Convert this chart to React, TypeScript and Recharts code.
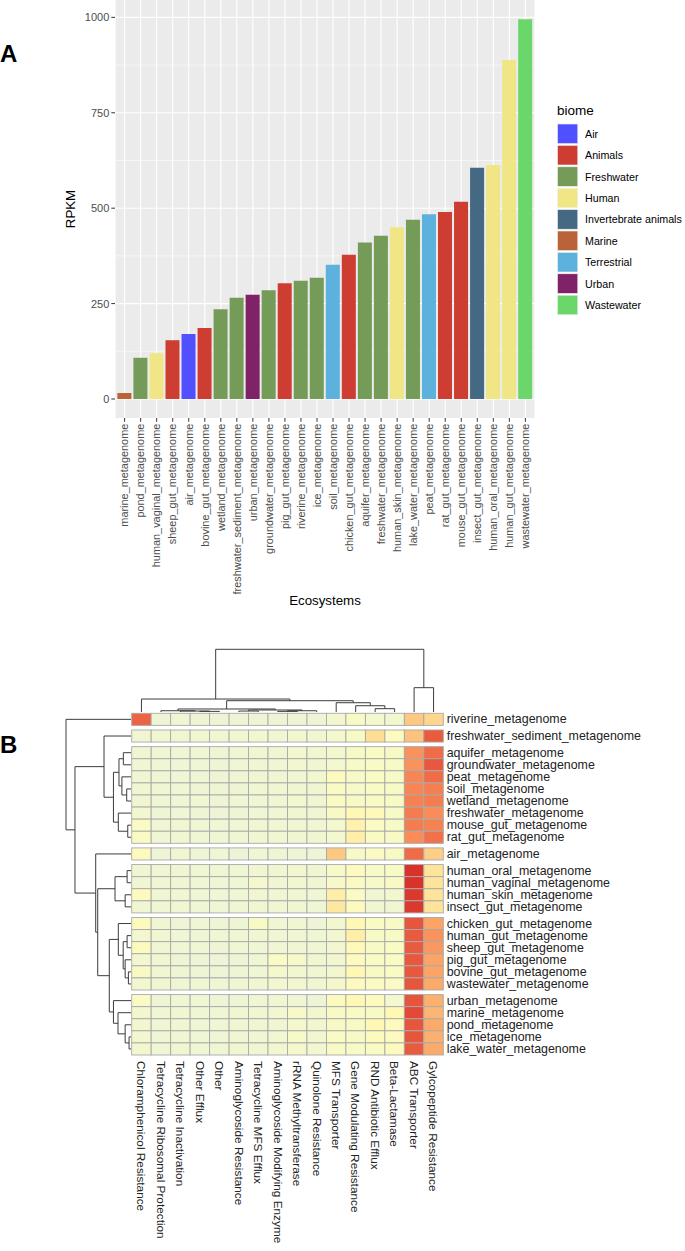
import React from 'react';
import {
  BarChart,
  Bar,
  Cell,
  XAxis,
  YAxis,
  CartesianGrid,
  ScatterChart,
  Scatter,
  LineChart,
  Line,
} from 'recharts';

const FONT = '"Liberation Sans", Arial, Helvetica, sans-serif';

// ---------- panel A: RPKM per ecosystem ----------
const ecosystems = [
  'marine_metagenome', 'pond_metagenome', 'human_vaginal_metagenome', 'sheep_gut_metagenome',
  'air_metagenome', 'bovine_gut_metagenome', 'wetland_metagenome', 'freshwater_sediment_metagenome',
  'urban_metagenome', 'groundwater_metagenome', 'pig_gut_metagenome', 'riverine_metagenome',
  'ice_metagenome', 'soil_metagenome', 'chicken_gut_metagenome', 'aquifer_metagenome',
  'freshwater_metagenome', 'human_skin_metagenome', 'lake_water_metagenome', 'peat_metagenome',
  'rat_gut_metagenome', 'mouse_gut_metagenome', 'insect_gut_metagenome', 'human_oral_metagenome',
  'human_gut_metagenome', 'wastewater_metagenome',
];
const rpkm = [
  16, 108, 120, 154, 170, 186, 235, 265, 273, 285, 303, 310, 318, 352, 378, 410, 428, 450,
  470, 484, 490, 517, 606, 613, 888, 995,
];
const ecosystemBiome = [
  'Marine', 'Freshwater', 'Human', 'Animals', 'Air', 'Animals', 'Freshwater', 'Freshwater',
  'Urban', 'Freshwater', 'Animals', 'Freshwater', 'Freshwater', 'Terrestrial', 'Animals',
  'Freshwater', 'Freshwater', 'Human', 'Freshwater', 'Terrestrial', 'Animals', 'Animals',
  'Invertebrate animals', 'Human', 'Human', 'Wastewater',
];
const biomes = [
  'Air', 'Animals', 'Freshwater', 'Human', 'Invertebrate animals', 'Marine', 'Terrestrial',
  'Urban', 'Wastewater',
];
const biomeColors = [
  '#5050FF', '#CE3D32', '#749B58', '#F0E685', '#466983', '#BA6338', '#5DB1DD', '#802268', '#6BD76B',
];
const rpkmTicks = [0, 250, 500, 750, 1000];
const rpkmMinor = [125, 375, 625, 875];

// ---------- panel B: heatmap ----------
const genes = [
  'Chloramphenicol Resistance', 'Tetracycline Ribosomal Protection', 'Tetracycline Inactivation',
  'Other Efflux', 'Other', 'Aminoglycoside Resistance', 'Tetracycline MFS Efflux',
  'Aminoglycoside Modifying Enzyme', 'rRNA Methyltransferase', 'Quinolone Resistance',
  'MFS Transporter', 'Gene Modulating Resistance', 'RND Antibiotic Efflux', 'Beta-Lactamase',
  'ABC Transporter', 'Gylcopeptide Resistance',
];
const heatRows = [
  'riverine_metagenome', 'freshwater_sediment_metagenome', 'aquifer_metagenome',
  'groundwater_metagenome', 'peat_metagenome', 'soil_metagenome', 'wetland_metagenome',
  'freshwater_metagenome', 'mouse_gut_metagenome', 'rat_gut_metagenome', 'air_metagenome',
  'human_oral_metagenome', 'human_vaginal_metagenome', 'human_skin_metagenome',
  'insect_gut_metagenome', 'chicken_gut_metagenome', 'human_gut_metagenome', 'sheep_gut_metagenome',
  'pig_gut_metagenome', 'bovine_gut_metagenome', 'wastewater_metagenome', 'urban_metagenome',
  'marine_metagenome', 'pond_metagenome', 'ice_metagenome', 'lake_water_metagenome',
];
const rowGroups = [1, 1, 8, 1, 4, 6, 5];
const heatValues = [
  [0.83, 0.06, 0.08, 0.06, 0.05, 0.06, 0.06, 0.07, 0.07, 0.06, 0.12, 0.2, 0.14, 0.12, 0.5, 0.45],
  [0.1, 0.1, 0.1, 0.1, 0.1, 0.1, 0.12, 0.1, 0.12, 0.1, 0.15, 0.2, 0.42, 0.25, 0.52, 0.86],
  [0.1, 0.08, 0.08, 0.08, 0.06, 0.08, 0.1, 0.1, 0.12, 0.12, 0.14, 0.2, 0.22, 0.2, 0.68, 0.8],
  [0.1, 0.08, 0.08, 0.08, 0.06, 0.08, 0.1, 0.1, 0.12, 0.1, 0.14, 0.2, 0.22, 0.2, 0.68, 0.87],
  [0.1, 0.08, 0.08, 0.08, 0.07, 0.08, 0.1, 0.1, 0.1, 0.12, 0.25, 0.18, 0.22, 0.2, 0.72, 0.8],
  [0.1, 0.08, 0.08, 0.07, 0.06, 0.07, 0.08, 0.1, 0.1, 0.1, 0.22, 0.18, 0.22, 0.2, 0.72, 0.74],
  [0.1, 0.08, 0.08, 0.08, 0.07, 0.08, 0.08, 0.1, 0.12, 0.1, 0.22, 0.2, 0.22, 0.2, 0.73, 0.75],
  [0.12, 0.06, 0.08, 0.06, 0.05, 0.06, 0.08, 0.1, 0.1, 0.1, 0.2, 0.3, 0.28, 0.2, 0.75, 0.7],
  [0.22, 0.08, 0.1, 0.08, 0.08, 0.08, 0.1, 0.1, 0.1, 0.1, 0.14, 0.33, 0.22, 0.2, 0.75, 0.73],
  [0.22, 0.08, 0.1, 0.08, 0.08, 0.08, 0.1, 0.1, 0.1, 0.1, 0.14, 0.35, 0.22, 0.2, 0.7, 0.78],
  [0.25, 0.05, 0.1, 0.05, 0.08, 0.03, 0.08, 0.06, 0.05, 0.04, 0.5, 0.18, 0.22, 0.2, 0.8, 0.48],
  [0.1, 0.08, 0.1, 0.08, 0.08, 0.08, 0.1, 0.1, 0.12, 0.1, 0.18, 0.25, 0.18, 0.2, 1.0, 0.4],
  [0.1, 0.08, 0.1, 0.08, 0.08, 0.08, 0.15, 0.1, 0.12, 0.1, 0.18, 0.22, 0.18, 0.2, 1.0, 0.4],
  [0.25, 0.08, 0.1, 0.08, 0.08, 0.08, 0.1, 0.1, 0.1, 0.08, 0.35, 0.22, 0.1, 0.12, 0.98, 0.4],
  [0.1, 0.08, 0.1, 0.08, 0.08, 0.08, 0.1, 0.1, 0.1, 0.08, 0.38, 0.25, 0.1, 0.1, 0.98, 0.4],
  [0.25, 0.1, 0.05, 0.08, 0.06, 0.06, 0.2, 0.1, 0.1, 0.05, 0.12, 0.3, 0.22, 0.2, 0.88, 0.62],
  [0.12, 0.1, 0.08, 0.08, 0.08, 0.08, 0.1, 0.1, 0.1, 0.08, 0.12, 0.35, 0.2, 0.2, 0.86, 0.68],
  [0.25, 0.1, 0.08, 0.08, 0.07, 0.08, 0.08, 0.1, 0.1, 0.08, 0.12, 0.28, 0.2, 0.22, 0.86, 0.66],
  [0.12, 0.1, 0.06, 0.06, 0.05, 0.06, 0.08, 0.22, 0.18, 0.1, 0.12, 0.25, 0.22, 0.22, 0.87, 0.62],
  [0.2, 0.1, 0.06, 0.06, 0.06, 0.06, 0.08, 0.15, 0.12, 0.1, 0.12, 0.3, 0.2, 0.22, 0.87, 0.62],
  [0.12, 0.1, 0.08, 0.08, 0.08, 0.08, 0.1, 0.12, 0.12, 0.1, 0.15, 0.25, 0.22, 0.22, 0.88, 0.6],
  [0.22, 0.06, 0.08, 0.08, 0.06, 0.06, 0.08, 0.1, 0.08, 0.05, 0.25, 0.3, 0.25, 0.14, 0.88, 0.58],
  [0.12, 0.08, 0.1, 0.08, 0.08, 0.1, 0.1, 0.12, 0.18, 0.12, 0.2, 0.22, 0.2, 0.3, 0.92, 0.56],
  [0.12, 0.08, 0.1, 0.08, 0.08, 0.1, 0.1, 0.1, 0.15, 0.12, 0.2, 0.2, 0.3, 0.25, 0.88, 0.6],
  [0.12, 0.08, 0.1, 0.08, 0.08, 0.1, 0.1, 0.12, 0.18, 0.12, 0.22, 0.2, 0.25, 0.25, 0.88, 0.58],
  [0.12, 0.08, 0.1, 0.08, 0.08, 0.1, 0.1, 0.12, 0.15, 0.12, 0.2, 0.2, 0.22, 0.25, 0.86, 0.6],
];

// dendrograms: [left, right, merge height]; leaves are column / row indices
type TreeNode = number | [TreeNode, TreeNode, number];
const colTree: TreeNode = [
  [
    0,
    [
      [
        [1, [2, [3, 4, 1.0], 1.5], 2.0],
        [[5, 6, 1.5], [[7, 8, 1.0], 9, 2.0], 3.2],
        4.8,
      ],
      [10, [11, [12, 13, 5.3], 10], 14.8],
      18,
    ],
    20.7,
  ],
  [14, 15, 38.8],
  100,
];
const rowTree: TreeNode = [
  0,
  [
    [
      1,
      [
        [[2, 3, 11.8], [4, [5, 6, 6.6], 14], 18.5],
        [7, [8, 9, 5], 19.5],
        27,
      ],
      41.5,
    ],
    [
      10,
      [
        [[11, 12, 6], [13, 14, 9], 24.6],
        [
          [15, [[16, 17, 6], [18, [19, 20, 4], 9], 12], 19.5],
          [21, [22, [23, [24, 25, 3], 9], 20], 27],
          33.4,
        ],
        51.2,
      ],
      54.3,
    ],
    86.2,
  ],
  100,
];

const HEAT_STOPS: [number, string][] = [
  [0.0, '#EAF3DA'],
  [0.12, '#F2F7D0'],
  [0.22, '#FAFBC4'],
  [0.3, '#FFF8B4'],
  [0.4, '#FEE39A'],
  [0.5, '#FDC981'],
  [0.6, '#FBAA6A'],
  [0.7, '#F98C57'],
  [0.8, '#EF6C47'],
  [0.9, '#E4503A'],
  [1.0, '#D8332B'],
];

function hexToRgb(h: string) {
  const n = parseInt(h.slice(1), 16);
  return [(n >> 16) & 255, (n >> 8) & 255, n & 255];
}

function heatColor(v: number) {
  for (let i = 1; i < HEAT_STOPS.length; i++) {
    const [v1, c1] = HEAT_STOPS[i];
    const [v0, c0] = HEAT_STOPS[i - 1];
    if (v <= v1) {
      const t = Math.max(0, (v - v0) / (v1 - v0));
      const a = hexToRgb(c0);
      const b = hexToRgb(c1);
      const m = a.map((x, k) => Math.round(x + (b[k] - x) * t));
      return `rgb(${m[0]},${m[1]},${m[2]})`;
    }
  }
  return HEAT_STOPS[HEAT_STOPS.length - 1][1];
}

// row centres with a small gap between the row clusters
const GAP = 0.38;
const rowPos: number[] = [];
let acc = 0;
rowGroups.forEach((n) => {
  for (let i = 0; i < n; i++) rowPos.push(acc + i + 0.5);
  acc += n + GAP;
});
const rowSpan = heatRows.length + GAP * (rowGroups.length - 1);

const HM_W = 311.6;
const HM_H = 341.7;
const cellW = HM_W / genes.length;
const cellH = HM_H / rowSpan;

const heatCells = heatValues.flatMap((row, r) =>
  row.map((v, c) => ({ x: c, y: rowPos[r], v })),
);

// each merge becomes a 4-point polyline; a null breaks the line before the next one
type DPoint = { p: number | null; h: number };
function dendro(node: TreeNode, leafPos: (i: number) => number, out: DPoint[]): { p: number; h: number } {
  if (typeof node === 'number') return { p: leafPos(node), h: 0 };
  const [l, r, h] = node;
  const a = dendro(l, leafPos, out);
  const b = dendro(r, leafPos, out);
  out.push({ p: a.p, h: a.h }, { p: a.p, h }, { p: b.p, h }, { p: b.p, h: b.h }, { p: null, h: b.h });
  return { p: (a.p + b.p) / 2, h };
}

const colDendroPts: DPoint[] = [];
dendro(colTree, (i) => i, colDendroPts);
const colDendroData = colDendroPts.map((d) => ({ x: d.p === null ? 0 : d.p, h: d.p === null ? null : d.h }));

const rowDendroPts: DPoint[] = [];
dendro(rowTree, (i) => rowPos[i], rowDendroPts);
const rowDendroData = rowDendroPts.map((d) => ({ h: d.h, y: d.p }));

const barData = ecosystems.map((name, i) => ({ name, value: rpkm[i], biome: ecosystemBiome[i] }));

const EcoTick = (props: any) => {
  const { x, y, payload } = props;
  const tx = x + 3.8;
  return (
    <text
      x={tx}
      y={y}
      transform={`rotate(-90 ${tx} ${y})`}
      textAnchor="end"
      fontSize={10.9}
      fill="#4D4D4D"
      fontFamily={FONT}
    >
      {payload.value}
    </text>
  );
};

const RpkmTick = (props: any) => {
  const { x, y, payload } = props;
  return (
    <text x={x} y={y} textAnchor="end" dominantBaseline="central" fontSize={11} fill="#4D4D4D" fontFamily={FONT}>
      {payload.value}
    </text>
  );
};

const RpkmLabel = (props: any) => {
  const vb = props.viewBox || { x: 65, y: 0, width: 50, height: 418 };
  const x = vb.x + 5;
  const y = vb.y + vb.height / 2;
  return (
    <text
      x={x}
      y={y}
      transform={`rotate(-90 ${x} ${y})`}
      textAnchor="middle"
      dominantBaseline="central"
      fontSize={13.3}
      fill="#000"
      fontFamily={FONT}
    >
      RPKM
    </text>
  );
};

const GeneTick = (props: any) => {
  const { x, y, payload } = props;
  const tx = x - 4.2;
  return (
    <text
      x={tx}
      y={y}
      transform={`rotate(90 ${tx} ${y})`}
      textAnchor="start"
      fontSize={11.8}
      fill="#222"
      fontFamily={FONT}
    >
      {genes[Math.round(payload.value)]}
    </text>
  );
};

const RowTick = (props: any) => {
  const { x, y, payload } = props;
  const idx = rowPos.findIndex((p) => Math.abs(p - payload.value) < 1e-6);
  return (
    <text x={x} y={y} textAnchor="start" dominantBaseline="central" fontSize={12.4} fill="#222" fontFamily={FONT}>
      {heatRows[idx]}
    </text>
  );
};

const HeatCell = (props: any) => {
  const { cx, cy, payload } = props;
  return (
    <rect
      x={cx - cellW / 2}
      y={cy - cellH / 2}
      width={cellW}
      height={cellH}
      fill={heatColor(payload.v)}
      stroke="#A9A9A9"
      strokeWidth={0.9}
    />
  );
};

export default function App() {
  return (
    <div style={{ position: 'relative', width: 685, height: 1251, background: '#fff', fontFamily: FONT }}>
      <style>{'body{margin:0}'}</style>

      {/* panel A */}
      <div style={{ position: 'absolute', left: 0, top: 0 }}>
        <BarChart
          width={685}
          height={620}
          data={barData}
          margin={{ top: 0, right: 150, bottom: 0, left: 65 }}
          barCategoryGap="5%"
        >
          <CartesianGrid
            fill="#EBEBEB"
            stroke="#FFFFFF"
            strokeWidth={0.55}
            vertical={false}
            horizontalValues={rpkmMinor}
          />
          <CartesianGrid stroke="#FFFFFF" strokeWidth={1.1} horizontalValues={rpkmTicks} />
          <XAxis
            dataKey="name"
            interval={0}
            height={202}
            axisLine={false}
            tickSize={3.7}
            tickMargin={2}
            tickLine={{ stroke: '#333333' }}
            tick={<EcoTick />}
            padding={{ left: 1.6, right: 1.6 }}
            label={{ value: 'Ecosystems', position: 'insideBottom', offset: 15.5, fontSize: 13.3, fill: '#000' }}
          />
          <YAxis
            type="number"
            width={50}
            domain={[-49.8, 1045.5]}
            ticks={rpkmTicks}
            axisLine={false}
            tickSize={3.7}
            tickMargin={2}
            tickLine={{ stroke: '#333333' }}
            tick={<RpkmTick />}
            label={<RpkmLabel />}
          />
          <Bar dataKey="value" isAnimationActive={false}>
            {barData.map((d, i) => (
              <Cell key={`bar-${i}`} fill={biomeColors[biomes.indexOf(d.biome)]} />
            ))}
          </Bar>
        </BarChart>
      </div>

      {/* column dendrogram */}
      <div style={{ position: 'absolute', left: 0, top: 640 }}>
        <LineChart
          width={685}
          height={80}
          data={colDendroData}
          margin={{ top: 9.3, right: 241.7, bottom: 8, left: 131.7 }}
        >
          <XAxis type="number" dataKey="x" domain={[-0.5, 15.5]} hide />
          <YAxis type="number" domain={[0, 100]} hide />
          <Line
            dataKey="h"
            stroke="#3C3C3C"
            strokeWidth={1}
            dot={false}
            connectNulls={false}
            isAnimationActive={false}
          />
        </LineChart>
      </div>

      {/* row dendrogram: height runs along x, row position along y */}
      <div style={{ position: 'absolute', left: 0, top: 700 }}>
        <LineChart
          width={685}
          height={370}
          data={rowDendroData}
          margin={{ top: 13.3, right: 554, bottom: 15, left: 66 }}
        >
          <XAxis type="number" dataKey="h" domain={[0, 100]} reversed hide />
          <YAxis type="number" domain={[0, rowSpan]} reversed hide />
          <Line
            dataKey="y"
            stroke="#3C3C3C"
            strokeWidth={1}
            dot={false}
            connectNulls={false}
            isAnimationActive={false}
          />
        </LineChart>
      </div>

      {/* heatmap */}
      <div style={{ position: 'absolute', left: 0, top: 620 }}>
        <ScatterChart width={685} height={631} margin={{ top: 93.3, right: 6.7, bottom: 6, left: 131.7 }}>
          <XAxis
            type="number"
            dataKey="x"
            domain={[-0.5, 15.5]}
            ticks={genes.map((_, i) => i)}
            interval={0}
            height={190}
            axisLine={false}
            tickLine={false}
            tickSize={0}
            tickMargin={6}
            tick={<GeneTick />}
          />
          <YAxis
            type="number"
            dataKey="y"
            orientation="right"
            domain={[0, rowSpan]}
            reversed
            ticks={rowPos}
            interval={0}
            width={235}
            axisLine={false}
            tickLine={false}
            tickSize={0}
            tickMargin={3.4}
            tick={<RowTick />}
          />
          <Scatter data={heatCells} shape={<HeatCell />} isAnimationActive={false} />
        </ScatterChart>
      </div>

      {/* panel letters and biome legend */}
      <svg
        width={685}
        height={1251}
        style={{ position: 'absolute', left: 0, top: 0, pointerEvents: 'none' }}
      >
        <text x={0} y={61.5} fontSize={24} fontWeight="bold" fill="#000" fontFamily={FONT}>A</text>
        <text x={0} y={753} fontSize={24} fontWeight="bold" fill="#000" fontFamily={FONT}>B</text>
        <text x={557} y={115} fontSize={13.5} fill="#000" fontFamily={FONT}>biome</text>
        {biomes.map((b, i) => (
          <g key={b}>
            <rect x={557.5} y={124 + i * 21.4} width={20.3} height={19.6} fill={biomeColors[i]} stroke="#F2F2F2" strokeWidth={0.6} />
            <text
              x={585}
              y={124 + i * 21.4 + 9.8}
              dominantBaseline="central"
              fontSize={10.7}
              fill="#000"
              fontFamily={FONT}
            >
              {b}
            </text>
          </g>
        ))}
      </svg>
    </div>
  );
}
